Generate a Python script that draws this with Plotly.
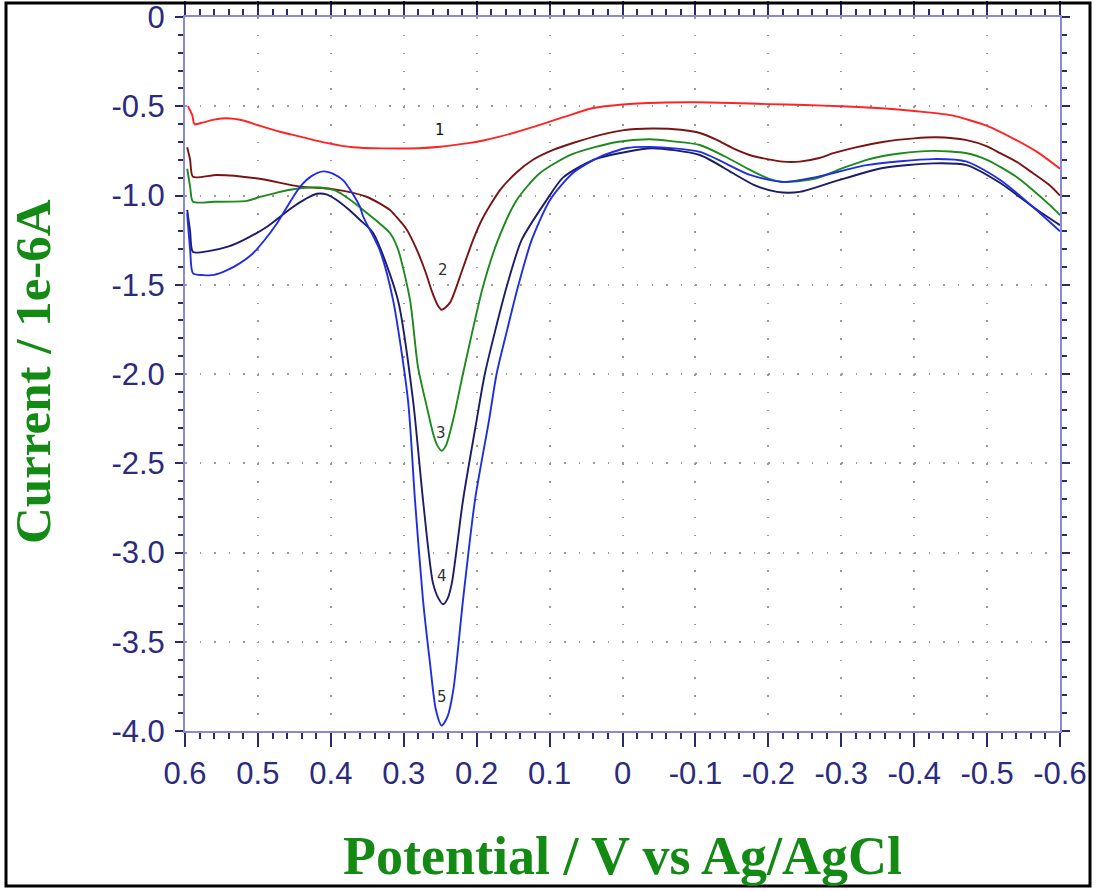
import plotly.graph_objects as go

# ---------------- data ----------------
V1 = [0.596, 0.590, 0.587, 0.575, 0.560, 0.543, 0.520, 0.497, 0.470, 0.442, 0.406, 0.370, 0.330, 0.280,
      0.250, 0.214, 0.191, 0.170, 0.140, 0.110, 0.080, 0.040, 0.000, -0.050, -0.100, -0.150, -0.200, -0.250,
      -0.300, -0.350, -0.400, -0.450, -0.500, -0.540, -0.570, -0.600]
I1 = [-0.50, -0.55, -0.60, -0.59, -0.575, -0.567, -0.580, -0.610, -0.643, -0.670, -0.705, -0.730, -0.736, -0.735,
      -0.727, -0.708, -0.692, -0.672, -0.638, -0.600, -0.560, -0.510, -0.490, -0.480, -0.478, -0.482, -0.488, -0.493,
      -0.500, -0.510, -0.527, -0.550, -0.610, -0.690, -0.760, -0.850]

V2 = [0.597, 0.593, 0.589, 0.556, 0.500, 0.442, 0.397, 0.351, 0.319, 0.310, 0.296, 0.282, 0.270, 0.262,
      0.254, 0.248, 0.2366, 0.220, 0.205, 0.193, 0.168, 0.145, 0.1227, 0.095, 0.068, 0.030, 0.000,
      -0.040, -0.080, -0.106, -0.130, -0.151, -0.180, -0.220, -0.243, -0.270, -0.289, -0.320, -0.357,
      -0.400, -0.430, -0.472, -0.500, -0.518, -0.540, -0.563, -0.585, -0.600]
I2 = [-0.73, -0.80, -0.895, -0.885, -0.905, -0.950, -0.964, -1.007, -1.081, -1.12, -1.19, -1.305, -1.43, -1.53,
      -1.61, -1.64, -1.60, -1.42, -1.25, -1.137, -0.97, -0.87, -0.80, -0.745, -0.706, -0.66, -0.635,
      -0.625, -0.632, -0.65, -0.69, -0.734, -0.78, -0.81, -0.81, -0.79, -0.763, -0.73, -0.70,
      -0.68, -0.674, -0.69, -0.725, -0.763, -0.81, -0.875, -0.94, -1.00]

V3 = [0.597, 0.593, 0.589, 0.560, 0.515, 0.497, 0.475, 0.452, 0.415, 0.395, 0.383, 0.365, 0.350, 0.335,
      0.319, 0.308, 0.2914, 0.2805, 0.268, 0.260, 0.254, 0.248, 0.242, 0.2323, 0.2186, 0.1913, 0.1707,
      0.145, 0.1131, 0.068, 0.0076, -0.038, -0.070, -0.106, -0.140, -0.175, -0.200, -0.220, -0.240, -0.267,
      -0.300, -0.335, -0.380, -0.426, -0.472, -0.500, -0.518, -0.540, -0.563, -0.585, -0.600]
I3 = [-0.85, -0.95, -1.035, -1.035, -1.030, -1.008, -0.985, -0.965, -0.955, -0.970, -0.997, -1.05, -1.10, -1.15,
      -1.21, -1.30, -1.585, -1.96, -2.19, -2.33, -2.40, -2.43, -2.40, -2.258, -1.996, -1.51, -1.249,
      -1.025, -0.874, -0.767, -0.700, -0.685, -0.697, -0.717, -0.780, -0.857, -0.905, -0.924, -0.920, -0.902,
      -0.850, -0.800, -0.765, -0.750, -0.763, -0.800, -0.840, -0.895, -0.970, -1.050, -1.110]

V4 = [0.597, 0.593, 0.589, 0.566, 0.540, 0.520, 0.488, 0.470, 0.452, 0.435, 0.419, 0.405, 0.392, 0.375,
      0.360, 0.342, 0.308, 0.2873, 0.2736, 0.260, 0.252, 0.2462, 0.240, 0.234, 0.2187, 0.200, 0.1886,
      0.1588, 0.1383, 0.104, 0.0816, 0.040, 0.000, -0.040, -0.106, -0.151, -0.180, -0.212, -0.243, -0.289,
      -0.357, -0.426, -0.472, -0.518, -0.563, -0.600]
I4 = [-1.08, -1.20, -1.317, -1.310, -1.285, -1.250, -1.176, -1.120, -1.064, -1.020, -0.990, -0.995, -1.025, -1.080,
      -1.137, -1.210, -1.585, -2.146, -2.706, -3.17, -3.26, -3.29, -3.26, -3.17, -2.706, -2.258, -1.996,
      -1.51, -1.249, -1.025, -0.90, -0.80, -0.76, -0.735, -0.773, -0.874, -0.94, -0.980, -0.980, -0.924,
      -0.846, -0.820, -0.830, -0.930, -1.064, -1.166]

V5 = [0.597, 0.593, 0.589, 0.575, 0.560, 0.543, 0.525, 0.507, 0.490, 0.474, 0.458, 0.442, 0.426, 0.410,
      0.396, 0.383, 0.370, 0.360, 0.3555, 0.333, 0.3147, 0.2942, 0.2846, 0.2736, 0.264, 0.256, 0.248, 0.240,
      0.232, 0.2187, 0.2023, 0.183, 0.1725, 0.158, 0.1433, 0.1245, 0.0994, 0.068, 0.031, -0.006, -0.038,
      -0.106, -0.175, -0.220, -0.267, -0.335, -0.426, -0.472, -0.518, -0.563, -0.600]
I5 = [-1.10, -1.30, -1.436, -1.446, -1.445, -1.420, -1.380, -1.325, -1.245, -1.157, -1.050, -0.950, -0.890, -0.865,
      -0.880, -0.915, -0.990, -1.064, -1.119, -1.305, -1.585, -2.146, -2.706, -3.266, -3.62, -3.88, -3.97, -3.92,
      -3.77, -3.266, -2.706, -2.258, -1.996, -1.75, -1.51, -1.249, -1.025, -0.874, -0.783, -0.734, -0.728,
      -0.756, -0.885, -0.924, -0.896, -0.830, -0.796, -0.810, -0.913, -1.064, -1.200]

CURVE_NAMES = ["1", "2", "3", "4", "5"]
CURVE_COLORS = ["#ff2424", "#7a1414", "#1d8a1d", "#1c1c68", "#1f2ee0"]

LABEL_V = [0.2503, 0.246, 0.249, 0.247, 0.247]
LABEL_I = [-0.633, -1.417, -2.33, -3.13, -3.81]

X_TICKS = [0.6, 0.5, 0.4, 0.3, 0.2, 0.1, 0.0, -0.1, -0.2, -0.3, -0.4, -0.5, -0.6]
X_TICKTEXT = ["0.6", "0.5", "0.4", "0.3", "0.2", "0.1", "0", "-0.1", "-0.2", "-0.3", "-0.4", "-0.5", "-0.6"]
Y_TICKS = [0.0, -0.5, -1.0, -1.5, -2.0, -2.5, -3.0, -3.5, -4.0]
Y_TICKTEXT = ["0", "-0.5", "-1.0", "-1.5", "-2.0", "-2.5", "-3.0", "-3.5", "-4.0"]

X_TITLE = "Potential / V vs Ag/AgCl"
Y_TITLE = "Current / 1e-6A"

# ---------------- figure ----------------
W, H = 1101, 891
ML, MR, MT, MB = 185, 41, 17, 160
PW, PH = W - ML - MR, H - MT - MB

def px_to_paper_x(px):
    return (px - ML) / PW

def px_to_paper_y(py):
    return (H - MB - py) / PH

fig = go.Figure()
series = [(V1, I1), (V2, I2), (V3, I3), (V4, I4), (V5, I5)]
for (vx, iy), name, col in zip(series, CURVE_NAMES, CURVE_COLORS):
    fig.add_trace(go.Scatter(x=vx, y=iy, mode="lines", name=name,
                             line=dict(color=col, width=1.9, shape="spline", smoothing=0.7),
                             showlegend=False))

for name, lv, li in zip(CURVE_NAMES, LABEL_V, LABEL_I):
    fig.add_annotation(x=lv, y=li, text=name, showarrow=False,
                       font=dict(family="DejaVu Sans", size=15,
                                 color="#111111" if name == "1" else "#333333"),
                       xanchor="center", yanchor="middle")

axis_common = dict(
    showline=True, linecolor="#8a8ad0", linewidth=2, mirror="ticks",
    ticks="outside", tickcolor="#2a2a6a", tickwidth=1.5,
    tickfont=dict(family="Liberation Sans", size=31, color="#2b2b7e"),
    showgrid=True, gridcolor="#9a9a9a", gridwidth=1.5,
    zeroline=False, ticklabeloverflow="allow",
)

fig.update_xaxes(**axis_common, range=[0.6, -0.6], tickmode="array",
                 tickvals=X_TICKS, ticktext=X_TICKTEXT, ticklen=14,
                 griddash="1.5px,16.35px",
                 minor=dict(dtick=0.02, tick0=0, ticks="outside", ticklen=6,
                            tickcolor="#2a2a6a", tickwidth=1.5, showgrid=False))
fig.update_yaxes(**axis_common, range=[-4.0, 0.0], tickmode="array",
                 tickvals=Y_TICKS, ticktext=Y_TICKTEXT, ticklen=8,
                 griddash="1.5px,13.08px", ticklabelstandoff=4,
                 minor=dict(dtick=0.1, tick0=0, ticks="outside", ticklen=5,
                            tickcolor="#2a2a6a", tickwidth=1.5, showgrid=False))

fig.add_annotation(xref="paper", yref="paper", x=px_to_paper_x(622), y=px_to_paper_y(856),
                   text=X_TITLE, showarrow=False, xanchor="center", yanchor="middle",
                   font=dict(family="Liberation Serif", size=54, color="#138a13", weight="bold"))
fig.add_annotation(xref="paper", yref="paper", x=px_to_paper_x(33), y=px_to_paper_y(372),
                   text=Y_TITLE, showarrow=False, xanchor="center", yanchor="middle", textangle=-90,
                   font=dict(family="Liberation Serif", size=51, color="#138a13", weight="bold"))

fig.add_shape(type="rect", xref="paper", yref="paper",
              x0=px_to_paper_x(6), x1=px_to_paper_x(1090),
              y0=px_to_paper_y(886), y1=px_to_paper_y(3),
              line=dict(color="black", width=3), fillcolor="rgba(0,0,0,0)", layer="above")

fig.update_layout(width=W, height=H, margin=dict(l=ML, r=MR, t=MT, b=MB, autoexpand=False),
                  paper_bgcolor="white", plot_bgcolor="white", showlegend=False)

fig.write_html("out.html")
